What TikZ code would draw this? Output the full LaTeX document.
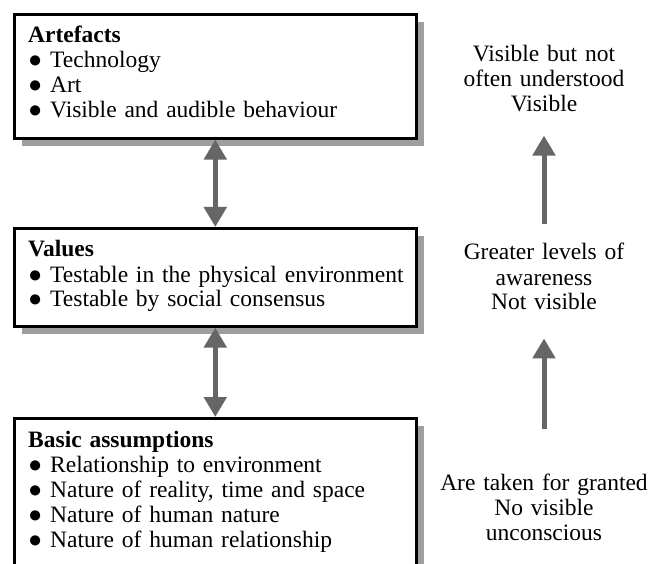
\documentclass[tikz,border=0pt]{standalone}
\usepackage{fontspec}
\setmainfont{Liberation Serif}
\usetikzlibrary{arrows.meta,shadows}

\tikzset{
    layer/.style={draw, line width=2.6pt, fill=white, anchor=north west, minimum width=402pt,
        drop shadow={shadow xshift=8pt, shadow yshift=-8pt, fill=black!38, opacity=1}},
    items/.style={anchor=base west, inner sep=0pt, text width=385pt, align=left},
    note/.style={anchor=base, inner sep=0pt, text width=215pt, align=center},
    link/.style={{Triangle[width=22pt,length=20pt]}-{Triangle[width=22pt,length=20pt]}, line width=5pt, draw=black!60},
    rise/.style={-{Triangle[width=22pt,length=20pt]}, line width=5pt, draw=black!60}
}
\newcommand\bul{\makebox[22pt][l]{●}}

\begin{document}
\begin{tikzpicture}[x=1pt, y=-1pt, every node/.style={font=\fontsize{23.5}{25}\selectfont}]
    \useasboundingbox (0,0) rectangle (648,564);

    \node[layer, minimum height=124pt] (art) at (13,13) {};
    \node[layer, minimum height=98pt] (val) at (13,227) {};
    \node[layer, minimum height=170pt] (bas) at (13,417) {};

    \node[items] (artT) at (28,43) {\textbf{Artefacts}\\ \bul Technology\\ \bul Art\\ \bul Visible and audible behaviour};
    \node[items] (valT) at (28,257) {\textbf{Values}\\ \bul Testable in the physical environment\\ \bul Testable by social consensus};
    \node[items] (basT) at (28,447) {\textbf{Basic assumptions}\\ \bul Relationship to environment\\ \bul Nature of reality, time and space\\ \bul Nature of human nature\\ \bul Nature of human relationship};

    \node[note] (vis) at (544,62) {Visible but not\\ often understood\\ Visible};
    \node[note] (aware) at (544,260) {Greater levels of\\ awareness\\ Not visible};
    \node[note] (taken) at (544,490) {Are taken for granted\\ No visible\\ unconscious};

    \draw[link] (art.south) -- (val.north);
    \draw[link] (val.south) -- (bas.north);
    \draw[rise, shorten <=19pt, shorten >=23pt] (aware.north) -- (vis.south);
    \draw[rise, shorten <=44pt, shorten >=28pt] (taken.north) -- (aware.south);
\end{tikzpicture}
\end{document}
